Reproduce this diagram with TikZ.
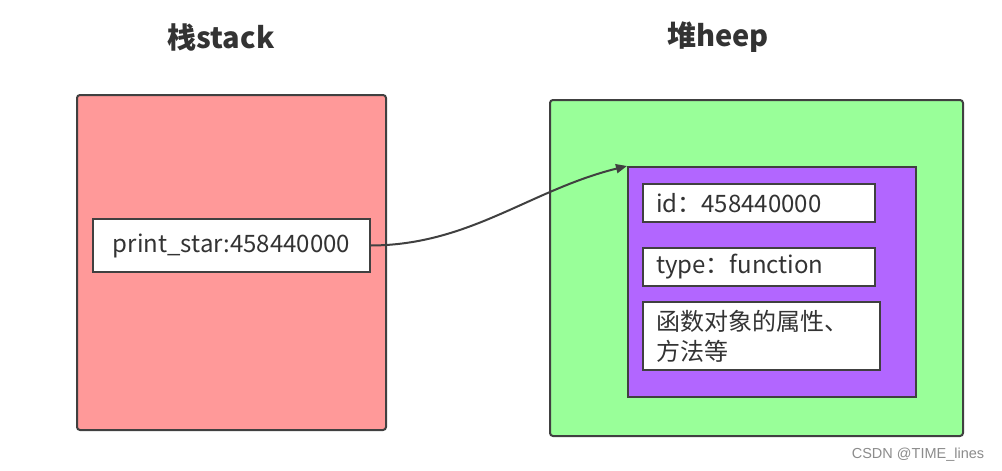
\documentclass[tikz,border=0pt]{standalone}
\usepackage{fontspec}
\setmainfont{Noto Sans CJK SC}
\newfontfamily\markfont{Liberation Sans}
\usetikzlibrary{arrows.meta}
\definecolor{edge}{HTML}{404040}
\definecolor{ink}{HTML}{333333}
\definecolor{stackred}{HTML}{FF9999}
\definecolor{heapgreen}{HTML}{99FF99}
\definecolor{objpurple}{HTML}{B266FF}
\begin{document}
\begin{tikzpicture}[x=1pt,y=-1pt,
  area/.style={draw=edge,line width=2pt,rounded corners=3pt,inner sep=0pt},
  cell/.style={draw=edge,line width=2pt,fill=white,inner sep=0pt,text=ink,font=\fontsize{24}{30}\selectfont},
  title/.style={text=ink,font=\fontsize{29}{32}\selectfont\bfseries}]
  \useasboundingbox (0,0) rectangle (1002,471);
  \fill[white] (0,0) rectangle (1002,471);
  \node[title] (tstack) at (221,37) {栈stack};
  \node[title] (theap) at (718,37) {堆heep};
  \node[area,fill=stackred,minimum width=309pt,minimum height=335pt] (stack) at (231.5,262.5) {};
  \node[area,fill=heapgreen,minimum width=413pt,minimum height=336pt] (heap) at (756.5,268) {};
  \node[cell,minimum width=277pt,minimum height=53pt] (star) at (231.5,245.5) {print\_star:458440000};
  \node[cell,fill=objpurple,minimum width=288pt,minimum height=230pt] (obj) at (772,282) {};
  \node[cell,minimum width=232pt,minimum height=38pt,text width=206pt,align=left] (id) at (759,203) {id：458440000};
  \node[cell,minimum width=232pt,minimum height=38pt,text width=206pt,align=left] (type) at (759,267) {type：function};
  \node[cell,minimum width=237pt,minimum height=68pt,text width=211pt,align=left] (attr) at (761.5,336) {函数对象的属性、\\方法等};
  \draw[edge,line width=2pt,-{Triangle[length=11pt,width=9pt]}] (star.east) .. controls (470,245) and (530,190) .. (obj.north west);
  \node[text=black!45,font=\markfont\fontsize{14.5}{16}\selectfont] (mark) at (918,455) {CSDN @TIME\_lines};
\end{tikzpicture}
\end{document}
